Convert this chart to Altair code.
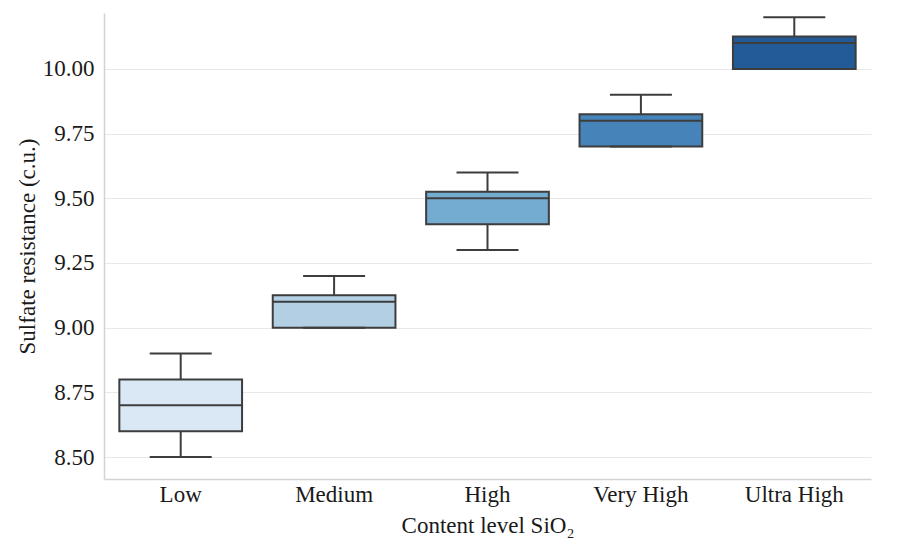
import altair as alt
import pandas as pd

categories = ["Low", "Medium", "High", "Very High", "Ultra High"]
lower = [8.5, 9.0, 9.3, 9.7, 10.0]
q1 = [8.6, 9.0, 9.4, 9.7, 10.0]
median = [8.7, 9.1, 9.5, 9.8, 10.1]
q3 = [8.8, 9.125, 9.525, 9.825, 10.125]
upper = [8.9, 9.2, 9.6, 9.9, 10.2]
colors = ["#dae8f5", "#b3cfe4", "#74abd1", "#4683b8", "#235a98"]

df = pd.DataFrame({"cat": categories, "lower": lower, "q1": q1,
                   "median": median, "q3": q3, "upper": upper})

FONT = "Liberation Serif"
EDGE = "#3d3d3d"

x = alt.X("cat:N", sort=categories, title="Content level SiO₂",
          scale=alt.Scale(paddingInner=0.2, paddingOuter=0.1),
          axis=alt.Axis(labelAngle=0, ticks=False, grid=False, labelPadding=4,
                        titlePadding=8))
yscale = alt.Scale(domain=[8.415, 10.216], nice=False, zero=False)
yaxis = alt.Axis(values=[8.5, 8.75, 9.0, 9.25, 9.5, 9.75, 10.0], format=".2f",
                 ticks=False, labelPadding=10, titlePadding=3)

base = alt.Chart(df)

whisk_lo = base.mark_rule(color=EDGE, strokeWidth=2).encode(
    x=x, y=alt.Y("lower:Q", scale=yscale, axis=yaxis, title="Sulfate resistance (c.u.)"),
    y2="q1:Q")
whisk_hi = base.mark_rule(color=EDGE, strokeWidth=2).encode(
    x=x, y=alt.Y("q3:Q", scale=yscale), y2="upper:Q")
box = base.mark_bar(stroke=EDGE, strokeWidth=2).encode(
    x=x, y=alt.Y("q1:Q", scale=yscale), y2="q3:Q",
    color=alt.Color("cat:N", scale=alt.Scale(domain=categories, range=colors), legend=None))
cap_lo = base.mark_tick(color=EDGE, thickness=2, size=62, opacity=1).encode(
    x=x, y=alt.Y("lower:Q", scale=yscale))
cap_hi = base.mark_tick(color=EDGE, thickness=2, size=62, opacity=1).encode(
    x=x, y=alt.Y("upper:Q", scale=yscale))
med = base.mark_tick(color=EDGE, thickness=2, size=123, opacity=1).encode(
    x=x, y=alt.Y("median:Q", scale=yscale))

chart = alt.layer(whisk_lo, whisk_hi, box, cap_lo, cap_hi, med).properties(
    width=767, height=466,
    autosize=alt.AutoSizeParams(type="none"),
    padding={"left": 96, "top": 5, "right": 20, "bottom": 60},
).configure_view(stroke=None).configure_axis(
    labelFont=FONT, titleFont=FONT, labelFontSize=23, titleFontSize=23,
    labelColor="#1a1a1a", titleColor="#1a1a1a", titleFontWeight="normal",
    domainColor="#d3d3d3", domainWidth=1.5, gridColor="#e8e8e8", gridWidth=1.2,
)

chart.save("out.html", embed_options={"renderer": "svg", "actions": False})
